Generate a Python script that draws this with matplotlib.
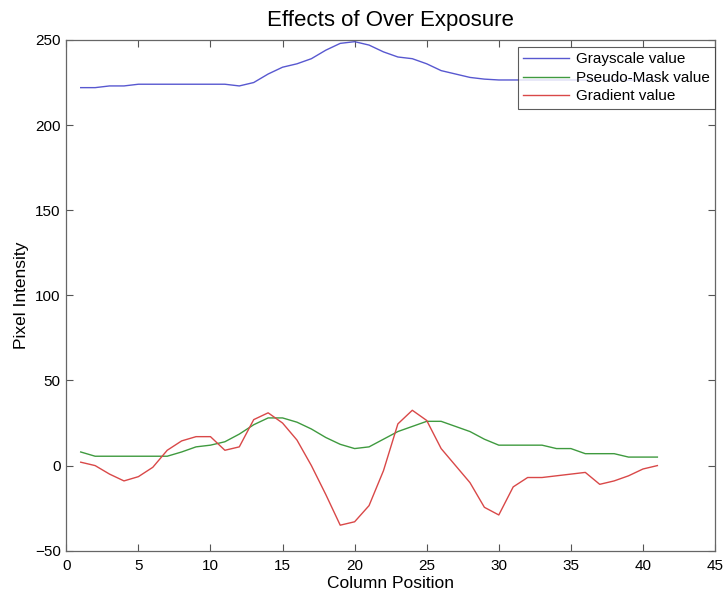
import matplotlib
matplotlib.use("Agg")
import matplotlib.pyplot as plt

plt.rcParams['font.family'] = ['Liberation Sans', 'DejaVu Sans']

columns = list(range(1, 42))
grayscale = [222, 222, 223, 223, 224, 224, 224, 224, 224, 224, 224, 223, 225, 230, 234,
             236, 239, 244, 248, 249, 247, 243, 240, 239, 236, 232, 230, 228, 227, 226.5,
             226.5, 226.5, 226.5, 226.5, 226.5, 226.5, 226.5, 226.5, 226.5, 226.5, 226.5]
pseudo_mask = [8, 5.5, 5.5, 5.5, 5.5, 5.5, 5.5, 8, 11, 12, 14, 18.5, 24, 28, 28,
               25.5, 21.5, 16.5, 12.5, 10, 11, 15.5, 20, 23, 26, 26, 23, 20, 15.5, 12,
               12, 12, 12, 10, 10, 7, 7, 7, 5, 5, 5]
gradient = [2, 0, -5, -9, -6.5, -1, 9, 14.5, 17, 17, 9, 11, 27, 31, 25,
            15, 0, -17, -35, -33, -23.5, -3, 24.5, 32.5, 26.5, 10, 0, -10, -24.5, -29,
            -12.5, -7, -7, -6, -5, -4, -11, -9, -6, -2, 0]

series_labels = ['Grayscale value', 'Pseudo-Mask value', 'Gradient value']
xticks = [0, 5, 10, 15, 20, 25, 30, 35, 40, 45]
yticks = [-50, 0, 50, 100, 150, 200, 250]

fig = plt.figure(figsize=(7.23, 5.93), dpi=100)
ax = fig.add_axes([0.0917, 0.0713, 0.8973, 0.8613])

ax.plot(columns, grayscale, color='#5858d0', lw=1.0, label=series_labels[0])
ax.plot(columns, pseudo_mask, color='#3f9a3f', lw=1.0, label=series_labels[1])
ax.plot(columns, gradient, color='#d94848', lw=1.0, label=series_labels[2])

ax.set_xlim(0, 45)
ax.set_ylim(-50, 250)
ax.set_xticks(xticks)
ax.set_yticks(yticks)
ax.tick_params(direction='in', length=5, labelsize=11, colors='#555555',
               labelcolor='black', top=True, right=True)
ax.tick_params(axis='x', pad=6)
ax.tick_params(axis='y', pad=4)
for s in ax.spines.values():
    s.set_color('#666666')
    s.set_linewidth(0.9)

ax.set_title('Effects of Over Exposure', fontsize=16, pad=10)
ax.set_xlabel('Column Position', fontsize=12.5, labelpad=2)
ax.set_ylabel('Pixel Intensity', fontsize=12.5, labelpad=4)

leg = ax.legend(loc='upper right', bbox_to_anchor=(1.0, 1 - 7 / 511), fontsize=11,
                frameon=True, fancybox=False, edgecolor='#333333', borderaxespad=0.0,
                handlelength=3.0, borderpad=0.35, labelspacing=0.3, handletextpad=0.45)
leg.get_frame().set_linewidth(0.8)

fig.savefig('out.png', dpi=100)
